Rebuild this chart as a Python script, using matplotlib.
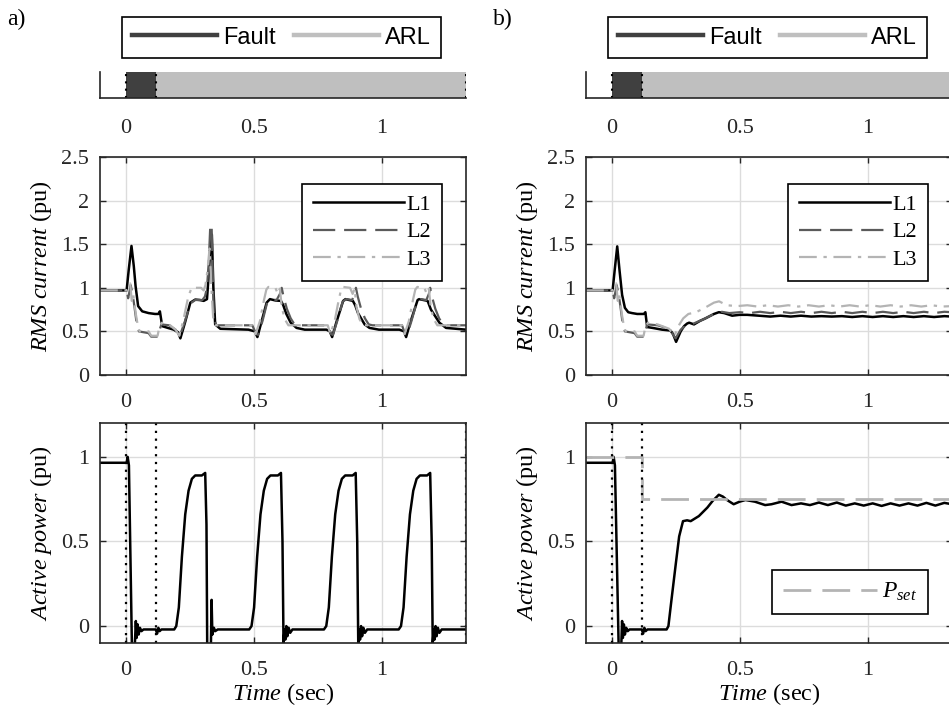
"""Fault + ARL response: RMS phase currents and active power, two control cases side by side."""

import numpy as np
import matplotlib
matplotlib.use("Agg")
import matplotlib.pyplot as plt
from matplotlib.lines import Line2D

plt.rcParams["font.family"] = ["Liberation Serif", "DejaVu Serif"]
plt.rcParams["mathtext.fontset"] = "custom"
plt.rcParams["mathtext.rm"] = "Liberation Serif"
plt.rcParams["mathtext.it"] = "Liberation Serif:italic"

W, H = 949, 708

# ---- data -------------------------------------------------------------------
XLIM = (-0.1, 1.33)
XTICKS = [0, 0.5, 1]

EVENT_NAMES = ["Fault", "ARL"]
EVENT_START = [0.0, 0.12]
EVENT_END = [0.12, 1.33]
EVENT_MARKS = [0.0, 0.12, 1.33]

# a) RMS phase currents (t [s], I [pu])
A_L1 = [(-0.1, 0.97), (0.004, 0.97), (0.012, 1.2), (0.023, 1.48), (0.032, 1.25), (0.039, 1.02),
        (0.049, 0.79), (0.065, 0.73), (0.09, 0.71), (0.115, 0.70), (0.128, 0.70), (0.134, 0.73),
        (0.143, 0.56), (0.165, 0.54), (0.188, 0.52), (0.205, 0.49), (0.214, 0.42), (0.232, 0.60),
        (0.253, 0.83), (0.272, 0.865), (0.29, 0.86), (0.305, 0.85), (0.318, 0.87), (0.326, 1.2),
        (0.333, 1.6), (0.337, 1.61), (0.343, 1.0), (0.35, 0.58), (0.37, 0.53), (0.48, 0.52),
        (0.505, 0.50), (0.515, 0.435), (0.53, 0.60), (0.551, 0.83), (0.564, 0.87), (0.585, 0.855),
        (0.607, 0.85), (0.616, 0.80), (0.628, 0.70), (0.645, 0.60), (0.668, 0.54), (0.70, 0.52),
        (0.785, 0.52), (0.798, 0.50), (0.807, 0.435), (0.823, 0.60), (0.85, 0.85), (0.859, 0.87),
        (0.888, 0.85), (0.897, 0.80), (0.908, 0.71), (0.934, 0.58), (0.953, 0.54), (0.99, 0.52),
        (1.07, 0.52), (1.088, 0.50), (1.096, 0.435), (1.112, 0.60), (1.141, 0.86), (1.147, 0.87),
        (1.18, 0.85), (1.193, 0.75), (1.226, 0.60), (1.252, 0.54), (1.33, 0.52)]
A_L2 = [(-0.1, 0.97), (0.004, 0.97), (0.01, 0.88), (0.02, 1.03), (0.03, 0.88), (0.042, 0.62),
        (0.052, 0.50), (0.09, 0.48), (0.1, 0.44), (0.127, 0.44), (0.133, 0.52), (0.14, 0.58),
        (0.17, 0.57), (0.195, 0.52), (0.212, 0.45), (0.23, 0.60), (0.253, 0.82), (0.272, 0.86),
        (0.3, 0.86), (0.31, 0.90), (0.318, 1.0), (0.325, 1.3), (0.331, 1.72), (0.336, 1.72),
        (0.345, 0.65), (0.355, 0.57), (0.495, 0.57), (0.51, 0.47), (0.518, 0.46), (0.535, 0.62),
        (0.553, 0.83), (0.568, 0.87), (0.59, 0.86), (0.603, 0.93), (0.61, 1.0), (0.617, 0.9),
        (0.63, 0.76), (0.645, 0.65), (0.66, 0.58), (0.675, 0.57), (0.79, 0.57), (0.802, 0.47),
        (0.81, 0.46), (0.827, 0.62), (0.848, 0.84), (0.862, 0.87), (0.885, 0.86), (0.895, 0.93),
        (0.9, 1.0), (0.907, 0.9), (0.92, 0.76), (0.935, 0.65), (0.95, 0.58), (0.965, 0.57),
        (1.08, 0.57), (1.092, 0.47), (1.1, 0.46), (1.117, 0.62), (1.138, 0.84), (1.152, 0.87),
        (1.175, 0.86), (1.185, 0.93), (1.19, 1.0), (1.197, 0.9), (1.21, 0.76), (1.225, 0.65),
        (1.24, 0.58), (1.255, 0.57), (1.33, 0.57)]
A_L3 = [(-0.1, 0.97), (0.004, 0.97), (0.01, 1.0), (0.018, 1.05), (0.024, 0.85), (0.03, 0.92),
        (0.04, 0.70), (0.048, 0.56), (0.055, 0.50), (0.09, 0.50), (0.1, 0.45), (0.125, 0.45),
        (0.132, 0.55), (0.142, 0.60), (0.17, 0.58), (0.195, 0.52), (0.21, 0.45), (0.225, 0.62),
        (0.245, 0.90), (0.258, 1.0), (0.295, 1.0), (0.305, 0.97), (0.312, 1.03), (0.32, 1.2),
        (0.328, 1.45), (0.335, 1.0), (0.343, 0.62), (0.352, 0.57), (0.495, 0.57), (0.508, 0.47),
        (0.525, 0.62), (0.54, 0.85), (0.55, 0.98), (0.558, 1.01), (0.585, 1.0), (0.595, 0.93),
        (0.603, 0.99), (0.61, 0.78), (0.622, 0.64), (0.636, 0.57), (0.79, 0.57), (0.8, 0.47),
        (0.817, 0.62), (0.832, 0.85), (0.842, 0.98), (0.85, 1.01), (0.877, 1.0), (0.887, 0.93),
        (0.895, 0.99), (0.902, 0.78), (0.914, 0.64), (0.928, 0.57), (1.08, 0.57), (1.09, 0.47),
        (1.107, 0.62), (1.122, 0.85), (1.132, 0.98), (1.14, 1.01), (1.167, 1.0), (1.177, 0.93),
        (1.185, 0.99), (1.192, 0.78), (1.204, 0.64), (1.218, 0.57), (1.33, 0.57)]

# b) RMS phase currents
B_L1 = [(-0.1, 0.97), (0.004, 0.97), (0.012, 1.2), (0.022, 1.475), (0.031, 1.2), (0.041, 0.92),
        (0.052, 0.77), (0.065, 0.72), (0.08, 0.71), (0.1, 0.70), (0.126, 0.70), (0.132, 0.72),
        (0.139, 0.55), (0.16, 0.54), (0.197, 0.52), (0.23, 0.51), (0.24, 0.47), (0.252, 0.38),
        (0.27, 0.50), (0.283, 0.56), (0.295, 0.59), (0.303, 0.60), (0.322, 0.58), (0.345, 0.62),
        (0.367, 0.65), (0.40, 0.70), (0.419, 0.72), (0.44, 0.71), (0.471, 0.68), (0.50, 0.69),
        (0.53, 0.69), (0.576, 0.68), (0.62, 0.67), (0.66, 0.68), (0.70, 0.67), (0.74, 0.68),
        (0.78, 0.67), (0.82, 0.675), (0.86, 0.67), (0.90, 0.675), (0.94, 0.665), (0.98, 0.675),
        (1.02, 0.665), (1.06, 0.675), (1.10, 0.665), (1.14, 0.675), (1.18, 0.665), (1.22, 0.675),
        (1.26, 0.665), (1.30, 0.675), (1.33, 0.67)]
B_L2 = [(-0.1, 0.97), (0.004, 0.97), (0.01, 0.88), (0.02, 1.03), (0.03, 0.88), (0.042, 0.62),
        (0.052, 0.50), (0.09, 0.48), (0.1, 0.44), (0.127, 0.44), (0.133, 0.52), (0.14, 0.58),
        (0.18, 0.57), (0.225, 0.53), (0.25, 0.42), (0.27, 0.52), (0.29, 0.57), (0.32, 0.59),
        (0.36, 0.64), (0.40, 0.70), (0.42, 0.73), (0.46, 0.71), (0.50, 0.72), (0.54, 0.71),
        (0.58, 0.725), (0.62, 0.71), (0.66, 0.725), (0.70, 0.71), (0.74, 0.725), (0.78, 0.71),
        (0.82, 0.725), (0.86, 0.71), (0.90, 0.725), (0.94, 0.71), (0.98, 0.725), (1.02, 0.71),
        (1.06, 0.725), (1.10, 0.71), (1.14, 0.725), (1.18, 0.71), (1.22, 0.725), (1.26, 0.71),
        (1.30, 0.725), (1.33, 0.72)]
B_L3 = [(-0.1, 0.97), (0.004, 0.97), (0.01, 1.0), (0.018, 1.05), (0.024, 0.85), (0.03, 0.92),
        (0.04, 0.70), (0.048, 0.56), (0.055, 0.50), (0.09, 0.50), (0.1, 0.45), (0.125, 0.45),
        (0.132, 0.55), (0.142, 0.60), (0.18, 0.58), (0.225, 0.53), (0.245, 0.45), (0.265, 0.58),
        (0.28, 0.65), (0.30, 0.70), (0.33, 0.72), (0.37, 0.78), (0.40, 0.83), (0.42, 0.845),
        (0.45, 0.80), (0.49, 0.79), (0.53, 0.80), (0.57, 0.785), (0.61, 0.80), (0.65, 0.785),
        (0.69, 0.80), (0.73, 0.785), (0.77, 0.80), (0.81, 0.785), (0.85, 0.80), (0.89, 0.785),
        (0.93, 0.80), (0.97, 0.785), (1.01, 0.80), (1.05, 0.785), (1.09, 0.80), (1.13, 0.785),
        (1.17, 0.80), (1.21, 0.785), (1.25, 0.80), (1.29, 0.785), (1.33, 0.79)]

# active power (t [s], P [pu])
A_P = [(-0.1, 0.965), (0.004, 0.965), (0.008, 1.0), (0.013, 0.95), (0.025, -0.15), (0.035, -0.15),
       (0.04, 0.03), (0.043, -0.07), (0.047, 0.01), (0.051, -0.05), (0.056, -0.01), (0.062, -0.03),
       (0.07, -0.02), (0.118, -0.02), (0.123, -0.045), (0.128, -0.01), (0.133, -0.03), (0.14, -0.02),
       (0.19, -0.02), (0.198, 0.0), (0.208, 0.11), (0.22, 0.41), (0.233, 0.66), (0.246, 0.80),
       (0.259, 0.87), (0.272, 0.89), (0.298, 0.89), (0.311, 0.905), (0.316, 0.6), (0.319, -0.15),
       (0.333, -0.15), (0.336, 0.155), (0.339, -0.05), (0.345, -0.01), (0.35, -0.03), (0.36, -0.02),
       (0.483, -0.02), (0.492, 0.0), (0.502, 0.11), (0.514, 0.41), (0.527, 0.66), (0.54, 0.80),
       (0.553, 0.87), (0.566, 0.89), (0.595, 0.89), (0.607, 0.905), (0.613, 0.5), (0.617, -0.1),
       (0.621, -0.02), (0.624, -0.08), (0.628, 0.0), (0.632, -0.06), (0.637, -0.01), (0.643, -0.04),
       (0.652, -0.02), (0.775, -0.02), (0.784, 0.0), (0.794, 0.11), (0.806, 0.41), (0.819, 0.66),
       (0.832, 0.80), (0.845, 0.87), (0.858, 0.89), (0.887, 0.89), (0.899, 0.905), (0.905, 0.5),
       (0.909, -0.1), (0.913, -0.02), (0.916, -0.08), (0.92, 0.0), (0.924, -0.06), (0.929, -0.01),
       (0.935, -0.04), (0.944, -0.02), (1.067, -0.02), (1.076, 0.0), (1.086, 0.11), (1.098, 0.41),
       (1.111, 0.66), (1.124, 0.80), (1.137, 0.87), (1.15, 0.89), (1.178, 0.89), (1.19, 0.905),
       (1.196, 0.5), (1.2, -0.1), (1.204, -0.02), (1.207, -0.08), (1.211, 0.0), (1.215, -0.06),
       (1.22, -0.01), (1.226, -0.04), (1.235, -0.02), (1.33, -0.02)]
B_P = [(-0.1, 0.965), (0.004, 0.965), (0.008, 1.0), (0.013, 0.95), (0.028, -0.15), (0.037, -0.15),
       (0.041, 0.03), (0.044, -0.07), (0.048, 0.01), (0.052, -0.05), (0.057, -0.01), (0.063, -0.03),
       (0.07, -0.02), (0.118, -0.02), (0.123, -0.045), (0.128, -0.01), (0.133, -0.03), (0.14, -0.02),
       (0.215, -0.02), (0.222, 0.0), (0.232, 0.13), (0.251, 0.37), (0.264, 0.53), (0.279, 0.62),
       (0.295, 0.625), (0.309, 0.62), (0.341, 0.65), (0.374, 0.70), (0.395, 0.74), (0.419, 0.776),
       (0.435, 0.765), (0.451, 0.745), (0.477, 0.72), (0.50, 0.735), (0.523, 0.745), (0.56, 0.735),
       (0.60, 0.715), (0.625, 0.72), (0.664, 0.735), (0.703, 0.715), (0.74, 0.725), (0.775, 0.715),
       (0.81, 0.73), (0.845, 0.715), (0.88, 0.73), (0.915, 0.712), (0.95, 0.725), (0.985, 0.712),
       (1.02, 0.725), (1.055, 0.71), (1.09, 0.725), (1.125, 0.712), (1.16, 0.725), (1.195, 0.712),
       (1.23, 0.728), (1.265, 0.712), (1.30, 0.728), (1.33, 0.72)]
PSET_T = [-0.1, 0.12, 0.12, 1.33]
PSET_V = [1.0, 1.0, 0.75, 0.75]

PHASES = ["L1", "L2", "L3"]
PHASE_COLORS = ["#000000", "#5a5a5a", "#b4b4b4"]
PHASE_DASHES = [None, (10, 4), (8, 3, 1.5, 3)]
EVENT_COLORS = ["#404040", "#bfbfbf"]
GRID_C = "#dcdcdc"
SPINE_C = "#262626"

# ---- layout (pixels) ---------------------------------------------------------
COL_LEFT = [100, 586]
AX_W = 366
TL_Y = (72, 98)          # timeline strip top/bottom
CUR_Y = (157, 375)       # current panel
POW_Y = (423, 643)       # power panel
TICK_FS = 16
LABEL_FS = 17.5


def px_axes(fig, left, top, bottom):
    return fig.add_axes([left / W, 1 - bottom / H, AX_W / W, (bottom - top) / H])


def style(ax):
    ax.set_xlim(*XLIM)
    ax.set_xticks(XTICKS)
    ax.set_xticklabels(["0", "0.5", "1"])
    ax.grid(True, color=GRID_C, lw=1.0)
    ax.set_axisbelow(True)
    ax.tick_params(direction="in", length=4, width=1, top=True, right=True,
                   labelsize=TICK_FS, colors=SPINE_C, labelcolor="#262626")
    ax.tick_params(axis="x", pad=13)
    ax.tick_params(axis="y", pad=8)
    for s in ax.spines.values():
        s.set_linewidth(1.2)
        s.set_color(SPINE_C)


def draw_phases(ax, series):
    for name, data, c, d in zip(PHASES, series, PHASE_COLORS, PHASE_DASHES):
        t, v = np.array(data).T
        ln, = ax.plot(t, v, color=c, lw=1.6 if name != "L1" else 1.8, label=name)
        if d is not None:
            ln.set_dashes(d)


def column(fig, col, label, currents, power, with_pset):
    left = COL_LEFT[col]
    fig.text((left - 93) / W, 1 - 19 / H, label, fontsize=17, ha="left", va="center")

    # timeline strip
    tl = px_axes(fig, left, *TL_Y)
    for name, s, e, c in zip(EVENT_NAMES, EVENT_START, EVENT_END, EVENT_COLORS):
        tl.barh(0.5, e - s, left=s, height=1.0, color=c, label=name)
    for x in EVENT_MARKS:
        tl.axvline(x, color="k", ls=(0, (1, 2.5)), lw=1.5)
    tl.set_xlim(*XLIM)
    tl.set_ylim(0, 1)
    tl.set_xticks(XTICKS)
    tl.set_xticklabels(["0", "0.5", "1"])
    tl.set_yticks([])
    tl.tick_params(axis="x", length=0, pad=15, labelsize=TICK_FS, labelcolor="#262626")
    for side in ("top", "right"):
        tl.spines[side].set_visible(False)
    for side in ("left", "bottom"):
        tl.spines[side].set_linewidth(1.2)
        tl.spines[side].set_color(SPINE_C)
    handles = [Line2D([], [], color=c, lw=3.2) for c in EVENT_COLORS]
    cx = (left + 21 + 160.5) / W
    lg = fig.legend(handles, EVENT_NAMES, loc="center", bbox_to_anchor=(cx, 1 - 37.5 / H),
                    ncol=2, fancybox=False, edgecolor="k", framealpha=1,
                    prop={"family": "Liberation Sans", "size": 17}, handlelength=3.6,
                    handletextpad=0.25, columnspacing=0.8, borderpad=0.4)
    lg.get_frame().set_linewidth(1.2)

    # RMS currents
    ac = px_axes(fig, left, *CUR_Y)
    draw_phases(ac, currents)
    style(ac)
    ac.set_ylim(0, 2.5)
    ac.set_yticks([0, 0.5, 1, 1.5, 2, 2.5])
    ac.set_yticklabels(["0", "0.5", "1", "1.5", "2", "2.5"])
    ac.set_ylabel(r"$\mathit{RMS\ current}$ (pu)", fontsize=LABEL_FS, labelpad=5)
    lg = ac.legend(loc="upper right", bbox_to_anchor=(0.934, 0.878), borderaxespad=0,
                   fancybox=False, edgecolor="k", framealpha=1, fontsize=16,
                   handlelength=4.1, handletextpad=0.1, labelspacing=0.3, borderpad=0.5)
    lg.get_frame().set_linewidth(1.2)

    # active power
    ap = px_axes(fig, left, *POW_Y)
    t, v = np.array(power).T
    ap.plot(t, v, color="k", lw=1.8)
    if with_pset:
        ln, = ap.plot(PSET_T, PSET_V, color="#b4b4b4", lw=2.0, label=r"$P_{set}$")
        ln.set_dashes((10, 4))
    for x in EVENT_MARKS:
        ap.axvline(x, color="k", ls=(0, (1, 2.5)), lw=1.6)
    style(ap)
    ap.set_ylim(-0.1, 1.2)
    ap.set_yticks([0, 0.5, 1])
    ap.set_yticklabels(["0", "0.5", "1"])
    ap.set_ylabel(r"$\mathit{Active\ power}$ (pu)", fontsize=LABEL_FS, labelpad=5)
    ap.set_xlabel(r"$\mathit{Time}$ (sec)", fontsize=LABEL_FS, labelpad=1)
    if with_pset:
        lg = ap.legend(loc="lower right", bbox_to_anchor=(0.934, 0.132), borderaxespad=0,
                       fancybox=False, edgecolor="k", framealpha=1, fontsize=17,
                       handlelength=4.0, handletextpad=0.2, borderpad=0.45)
        lg.get_frame().set_linewidth(1.2)


fig = plt.figure(figsize=(W / 100, H / 100), dpi=100)
column(fig, 0, "a)", [A_L1, A_L2, A_L3], A_P, False)
column(fig, 1, "b)", [B_L1, B_L2, B_L3], B_P, True)
fig.savefig("out.png", dpi=100)
